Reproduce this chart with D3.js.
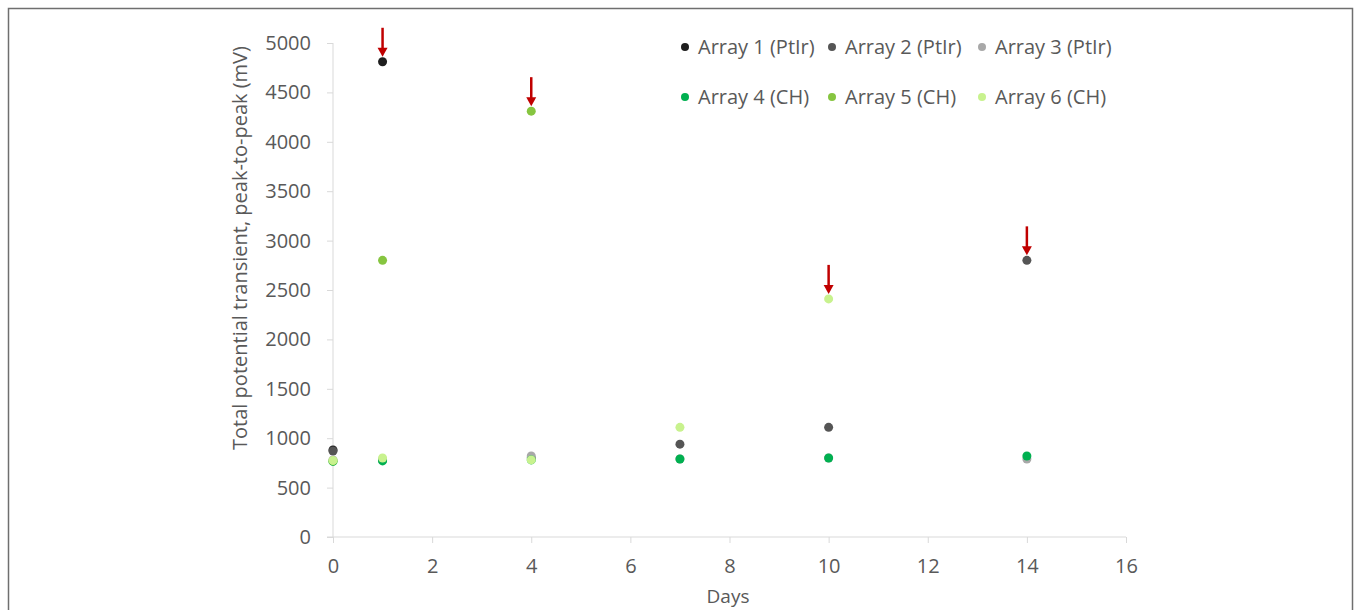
<!DOCTYPE html>
<html>
<head>
<meta charset="utf-8">
<script src="https://d3js.org/d3.v7.min.js"></script>
<style>
  body { margin: 0; background: #fff; }
  svg text { font-family: "Open Sans", "Noto Sans", sans-serif; fill: #595959; }
</style>
</head>
<body>
<script>
// days on the x axis
var days = [0, 1, 4, 7, 10, 14];

// peak-to-peak values (mV), null = array no longer measured
var array1 = [880, 4810, null, null, null, null];
var array2 = [870, 780, 800, 940, 1110, 2800];
var array3 = [780, 780, 820, 790, 800, 790];
var array4 = [765, 770, 780, 790, 800, 820];
var array5 = [770, 2800, 4310, null, null, null];
var array6 = [775, 800, 780, 1110, 2410, null];

var seriesNames = ["Array 1 (PtIr)", "Array 2 (PtIr)", "Array 3 (PtIr)",
                   "Array 4 (CH)", "Array 5 (CH)", "Array 6 (CH)"];
var seriesColors = ["#1e1e1e", "#555555", "#a8a8a8", "#00b050", "#86c540", "#c8f28e"];
var seriesValues = [array1, array2, array3, array4, array5, array6];

// failure points marked with red arrows: [day, value]
var failures = [[1, 4810], [4, 4310], [10, 2410], [14, 2800]];

var xTicks = [0, 2, 4, 6, 8, 10, 12, 14, 16];
var yTicks = [0, 500, 1000, 1500, 2000, 2500, 3000, 3500, 4000, 4500, 5000];

var W = 1358, H = 610;
var svg = d3.select("body").append("svg").attr("width", W).attr("height", H);

// outer frame (no bottom edge visible)
svg.append("path")
  .attr("d", "M8.5," + H + "V8.5H1352.5V" + H)
  .attr("fill", "none").attr("stroke", "#6f6f6f").attr("stroke-width", 1.5);

var x = d3.scaleLinear().domain([0, 16]).range([333, 1126]);
var y = d3.scaleLinear().domain([0, 5000]).range([537, 43]);

// y axis
var yAxis = svg.append("g").attr("transform", "translate(" + x(0) + ",0)")
  .call(d3.axisLeft(y).tickValues(yTicks).tickFormat(d3.format("d")).tickSize(6).tickPadding(16));
yAxis.select(".domain").attr("stroke", "#d9d9d9").attr("d", "M0," + y(5000) + "V" + y(0));
yAxis.selectAll(".tick line").attr("stroke", "#d9d9d9");
yAxis.selectAll(".tick text").style("font-size", "20px").attr("fill", "#595959");

// x axis
var xAxis = svg.append("g").attr("transform", "translate(0," + y(0) + ")")
  .call(d3.axisBottom(x).tickValues(xTicks).tickFormat(d3.format("d")).tickSize(6).tickPadding(16));
xAxis.select(".domain").attr("stroke", "#d9d9d9").attr("d", "M" + (x(0) - 6) + ",0H" + x(16));
xAxis.selectAll(".tick line").attr("stroke", "#d9d9d9");
xAxis.selectAll(".tick text").style("font-size", "20px").attr("fill", "#595959");

// axis titles
svg.append("text")
  .attr("transform", "translate(247,248) rotate(-90)")
  .attr("text-anchor", "middle")
  .style("font-size", "20px")
  .text("Total potential transient, peak-to-peak (mV)");

svg.append("text")
  .attr("x", 728).attr("y", 603)
  .attr("text-anchor", "middle")
  .style("font-size", "19px")
  .text("Days");

// points
seriesValues.forEach(function(vals, s) {
  var pts = days.map(function(d, i) { return { day: d, v: vals[i] }; })
    .filter(function(p) { return p.v !== null; });
  svg.append("g").selectAll("circle")
    .data(pts).enter().append("circle")
    .attr("cx", function(p) { return x(p.day); })
    .attr("cy", function(p) { return y(p.v); })
    .attr("r", 4.5)
    .attr("fill", seriesColors[s]);
});

// red arrows above failure points
var arrows = svg.append("g");
failures.forEach(function(f) {
  var cx = x(f[0]), cy = y(f[1]);
  arrows.append("line")
    .attr("x1", cx).attr("x2", cx)
    .attr("y1", cy - 34).attr("y2", cy - 12)
    .attr("stroke", "#c00000").attr("stroke-width", 2.5);
  arrows.append("path")
    .attr("d", "M" + (cx - 5) + "," + (cy - 14) + "L" + (cx + 5) + "," + (cy - 14) + "L" + cx + "," + (cy - 5) + "Z")
    .attr("fill", "#c00000");
});

// legend
var legX = [685, 832, 982], legY = [47, 97];
var legend = svg.append("g");
seriesNames.forEach(function(name, i) {
  var lx = legX[i % 3], ly = legY[Math.floor(i / 3)];
  legend.append("circle").attr("cx", lx).attr("cy", ly).attr("r", 4).attr("fill", seriesColors[i]);
  legend.append("text").attr("x", lx + 13).attr("y", ly + 7)
    .style("font-size", "20px").text(name);
});
</script>
</body>
</html>
